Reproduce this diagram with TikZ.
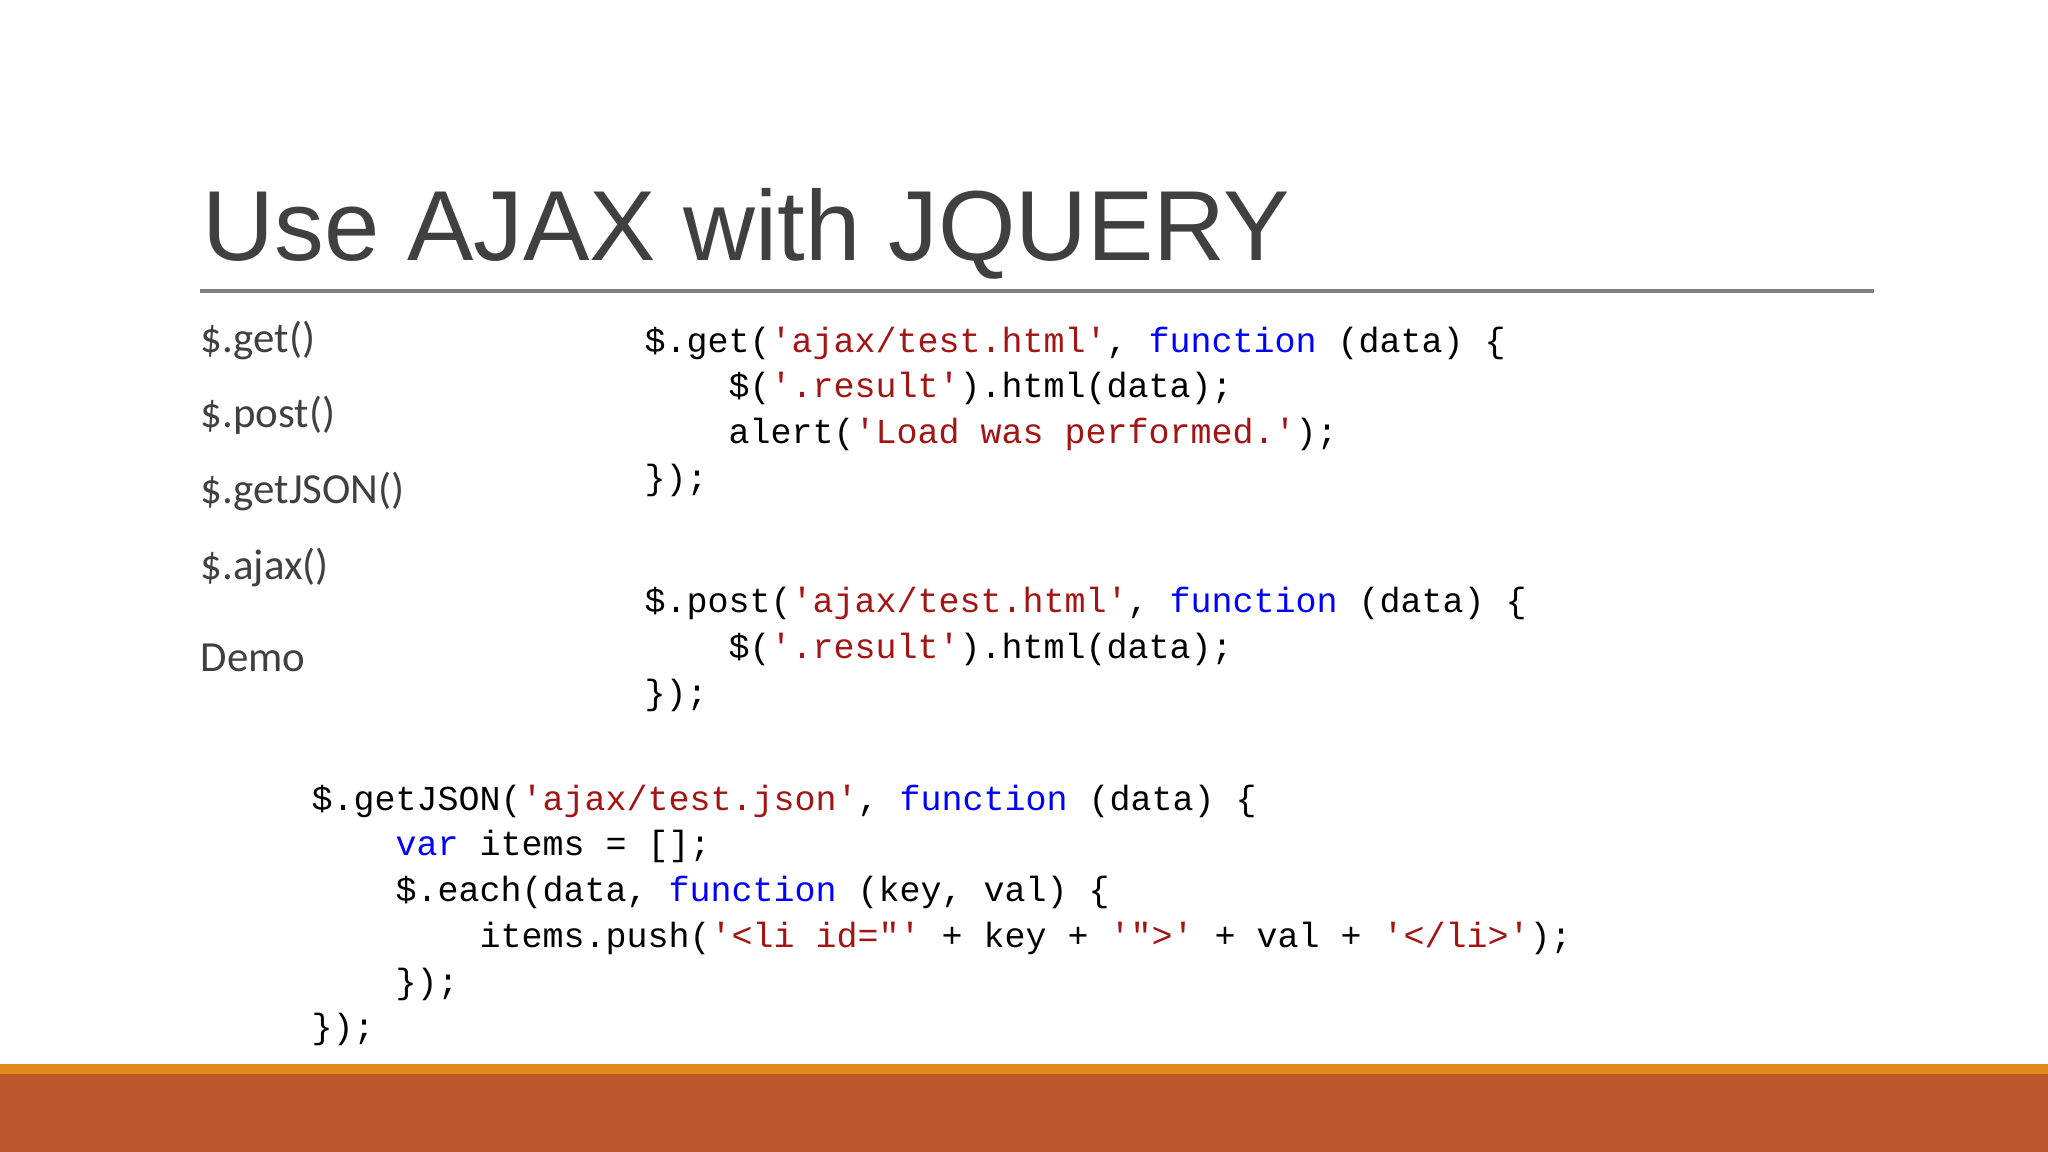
\documentclass[tikz,border=0pt]{standalone}
\usepackage{fontspec}
\newfontfamily\titlefont{Liberation Sans}
\newfontfamily\listfont{Carlito}
\newfontfamily\codefont{Liberation Mono}
\definecolor{str}{HTML}{A31515}
\definecolor{kw}{HTML}{0000FF}
\definecolor{txt}{HTML}{404040}
\definecolor{barA}{HTML}{E08A1E}
\definecolor{barB}{HTML}{BC582C}
\newcommand{\Sx}[1]{\textcolor{str}{#1}}
\newcommand{\Kw}[1]{\textcolor{kw}{#1}}
\begin{document}
\begin{tikzpicture}[x=0.01cm,y=-0.01cm,
  code/.style={anchor=base west,inner sep=0pt,font=\codefont\fontsize{9.95}{12}\selectfont,text=black},
  item/.style={anchor=base west,inner sep=0pt,font=\listfont\fontsize{12.2}{15}\selectfont,text=txt}]
\useasboundingbox (0,0) rectangle (2048,1152);
\fill[white] (0,0) rectangle (2048,1152);
\node[anchor=base west,inner sep=0pt,font=\titlefont\fontsize{28.3}{34}\selectfont,text=txt] (title) at (202,261) {Use AJAX with JQUERY};
\coordinate (l1) at (200,291); \coordinate (l2) at (1874,291);
\draw[gray,line width=1.3pt] (l1) -- (l2);
\node[item] (i1) at (200,353) {\$.get()};
\node[item] (i2) at (200,428) {\$.post()};
\node[item] (i3) at (200,504) {\$.getJSON()};
\node[item] (i4) at (200,580) {\$.ajax()};
\node[item] (i5) at (200,671) {Demo};
% block 1
\node[code] (a1) at (644,353) {\$.get(\Sx{'ajax/test.html'}, \Kw{function} (data) \{};
\node[code] (a2) at (728,398) {\$(\Sx{'.result'}).html(data);};
\node[code] (a3) at (728,444) {alert(\Sx{'Load was performed.'});};
\node[code] (a4) at (644,490) {\});};
% block 2
\node[code] (b1) at (644,613) {\$.post(\Sx{'ajax/test.html'}, \Kw{function} (data) \{};
\node[code] (b2) at (728,658) {\$(\Sx{'.result'}).html(data);};
\node[code] (b3) at (644,704) {\});};
% block 3
\node[code] (c1) at (311,810) {\$.getJSON(\Sx{'ajax/test.json'}, \Kw{function} (data) \{};
\node[code] (c2) at (395,855) {\Kw{var} items = [];};
\node[code] (c3) at (395,901) {\$.each(data, \Kw{function} (key, val) \{};
\node[code] (c4) at (479,947) {items.push(\Sx{'<li id="'} + key + \Sx{'">'} + val + \Sx{'</li>'});};
\node[code] (c5) at (395,993) {\});};
\node[code] (c6) at (311,1038) {\});};
\fill[barA] (0,1064) rectangle (2048,1074);
\fill[barB] (0,1074) rectangle (2048,1152);
\end{tikzpicture}
\end{document}
